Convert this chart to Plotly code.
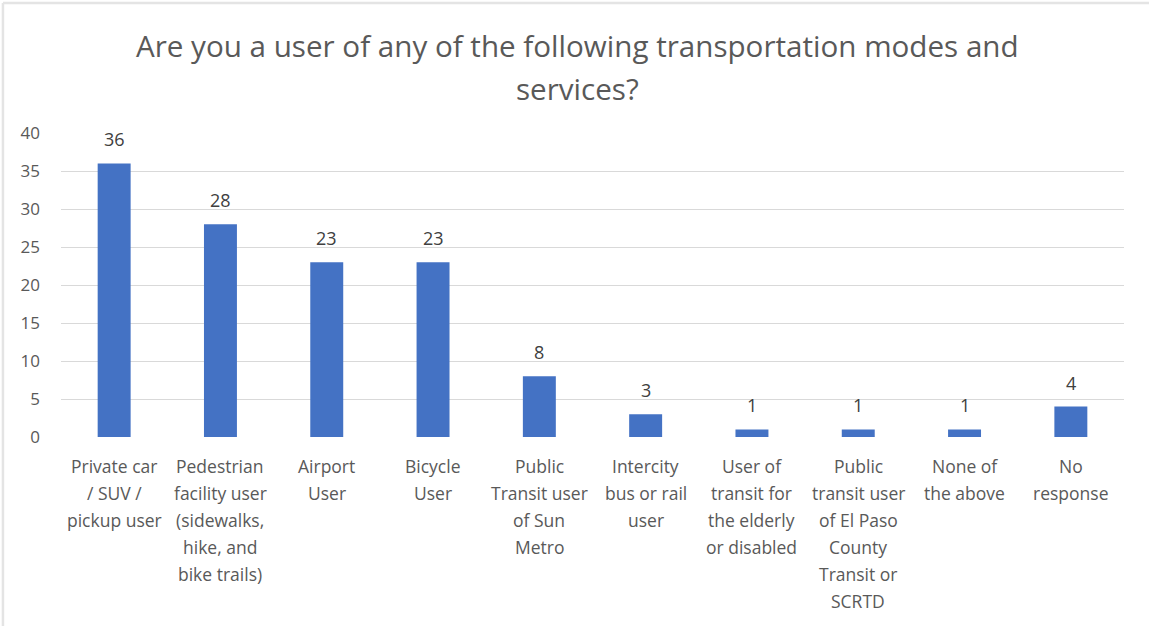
import plotly.graph_objects as go

# Survey responses: transportation modes used
categories = [
    "Private car<br>/ SUV /<br>pickup user",
    "Pedestrian<br>facility user<br>(sidewalks,<br>hike, and<br>bike trails)",
    "Airport<br>User",
    "Bicycle<br>User",
    "Public<br>Transit user<br>of Sun<br>Metro",
    "Intercity<br>bus or rail<br>user",
    "User of<br>transit for<br>the elderly<br>or disabled",
    "Public<br>transit user<br>of El Paso<br>County<br>Transit or<br>SCRTD",
    "None of<br>the above",
    "No<br>response",
]
counts = [36, 28, 23, 23, 8, 3, 1, 1, 1, 4]
y_ticks = [0, 5, 10, 15, 20, 25, 30, 35, 40]
title_lines = [
    "Are you a user of any of the following transportation modes and",
    "services?",
]

FONT = "Open Sans"
TEXT_GRAY = "#595959"
BAR_BLUE = "#4472C4"

idx = list(range(len(categories)))

fig = go.Figure()
fig.add_trace(go.Bar(
    x=idx,
    y=counts,
    marker=dict(color=BAR_BLUE, line=dict(width=0)),
    width=0.31,
    cliponaxis=False,
    hoverinfo="skip",
))

annotations = []

# Value labels above each bar
for i, v in zip(idx, counts):
    annotations.append(dict(
        x=i, y=v, xref="x", yref="y",
        text=str(v), showarrow=False,
        xanchor="center", yanchor="bottom",
        yshift=10,
        font=dict(family=FONT, size=18, color="#404040"),
    ))

# Category labels, one annotation per line for wider line spacing
for i, label in enumerate(categories):
    for j, line in enumerate(label.split("<br>")):
        annotations.append(dict(
            x=i, y=0, xref="x", yref="paper",
            text=line, showarrow=False,
            xanchor="center", yanchor="middle",
            yshift=-29 - 27 * j,
            font=dict(family=FONT, size=17.5, color=TEXT_GRAY),
        ))

# Two-line chart title, centred on the full figure width
for j, line in enumerate(title_lines):
    annotations.append(dict(
        x=0.4855, y=1, xref="paper", yref="paper",
        text=line, showarrow=False,
        xanchor="center", yanchor="middle",
        yshift=(133 - 45) - 43 * j,
        font=dict(family=FONT, size=29.6, color=TEXT_GRAY),
    ))

fig.update_layout(
    width=1149,
    height=626,
    margin=dict(l=61, r=25, t=133, b=189),
    paper_bgcolor="white",
    plot_bgcolor="white",
    showlegend=False,
    xaxis=dict(
        range=[-0.5, len(categories) - 0.5],
        showticklabels=False,
        showgrid=False,
        zeroline=False,
        showline=False,
        ticks="",
        fixedrange=True,
    ),
    yaxis=dict(
        range=[0, 40],
        tickvals=y_ticks,
        showgrid=True,
        gridcolor="#d9d9d9",
        gridwidth=1.3,
        zeroline=False,
        showline=False,
        ticks="",
        ticklabelstandoff=20,
        tickfont=dict(family=FONT, size=17, color=TEXT_GRAY),
        fixedrange=True,
    ),
    annotations=annotations,
    shapes=[
        dict(type="line", xref="paper", yref="paper",
             x0=-0.0546, x1=1.03, y0=1.4276, y1=1.4276,
             line=dict(color="#e4e4e4", width=2.5)),
        dict(type="line", xref="paper", yref="paper",
             x0=-0.0546, x1=-0.0546, y0=1.4276, y1=-0.63,
             line=dict(color="#e4e4e4", width=2.5)),
    ],
)

fig.write_html("out.html")
